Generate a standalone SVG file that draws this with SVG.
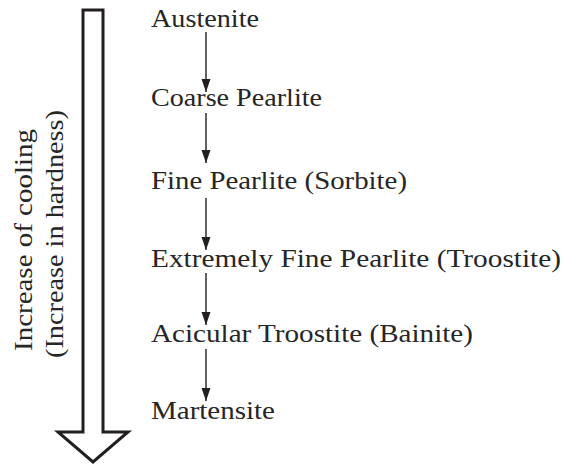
<svg xmlns="http://www.w3.org/2000/svg" width="564" height="465" viewBox="0 0 564 465">
  <style>
    .t { font-family: "Liberation Serif", "Times New Roman", serif; font-size: 24.5px; fill: #262626; }
    .c { stroke: #231f20; stroke-width: 1.4; fill: none; }
  </style>
  <defs>
    <marker id="ah" markerUnits="userSpaceOnUse" markerWidth="14" markerHeight="10" viewBox="0 0 14 10" refX="13" refY="5" orient="auto">
      <path d="M0,0.5 L13,5 L0,9.5 Z" fill="#231f20"/>
    </marker>
  </defs>
  <rect width="564" height="465" fill="#ffffff"/>

  <g id="big-arrow">
    <path d="M83,10 H103 V432 H128 L93,462 L58,432 H83 Z" fill="none" stroke="#231f20" stroke-width="3" stroke-linejoin="miter"/>
    <text class="t" transform="translate(32,240) rotate(-90)" text-anchor="middle" textLength="222" lengthAdjust="spacingAndGlyphs">Increase of cooling</text>
    <text class="t" transform="translate(63,234) rotate(-90)" text-anchor="middle" textLength="248" lengthAdjust="spacingAndGlyphs">(Increase in hardness)</text>
  </g>

  <g id="austenite"><text class="t" x="151" y="27" textLength="108" lengthAdjust="spacingAndGlyphs">Austenite</text></g>
  <g id="coarse-pearlite"><text class="t" x="151" y="106" textLength="171" lengthAdjust="spacingAndGlyphs">Coarse Pearlite</text></g>
  <g id="fine-pearlite"><text class="t" x="151" y="189" textLength="256" lengthAdjust="spacingAndGlyphs">Fine Pearlite (Sorbite)</text></g>
  <g id="extremely-fine-pearlite"><text class="t" x="151" y="267" textLength="410" lengthAdjust="spacingAndGlyphs">Extremely Fine Pearlite (Troostite)</text></g>
  <g id="acicular-troostite"><text class="t" x="151" y="342" textLength="322" lengthAdjust="spacingAndGlyphs">Acicular Troostite (Bainite)</text></g>
  <g id="martensite"><text class="t" x="151" y="419" textLength="124" lengthAdjust="spacingAndGlyphs">Martensite</text></g>

  <g id="connectors">
    <line class="c" x1="206" y1="32" x2="206" y2="92" marker-end="url(#ah)"/>
    <line class="c" x1="206" y1="113" x2="206" y2="163" marker-end="url(#ah)"/>
    <line class="c" x1="206" y1="198" x2="206" y2="250" marker-end="url(#ah)"/>
    <line class="c" x1="206" y1="273" x2="206" y2="325" marker-end="url(#ah)"/>
    <line class="c" x1="206" y1="349" x2="206" y2="401" marker-end="url(#ah)"/>
  </g>
</svg>
